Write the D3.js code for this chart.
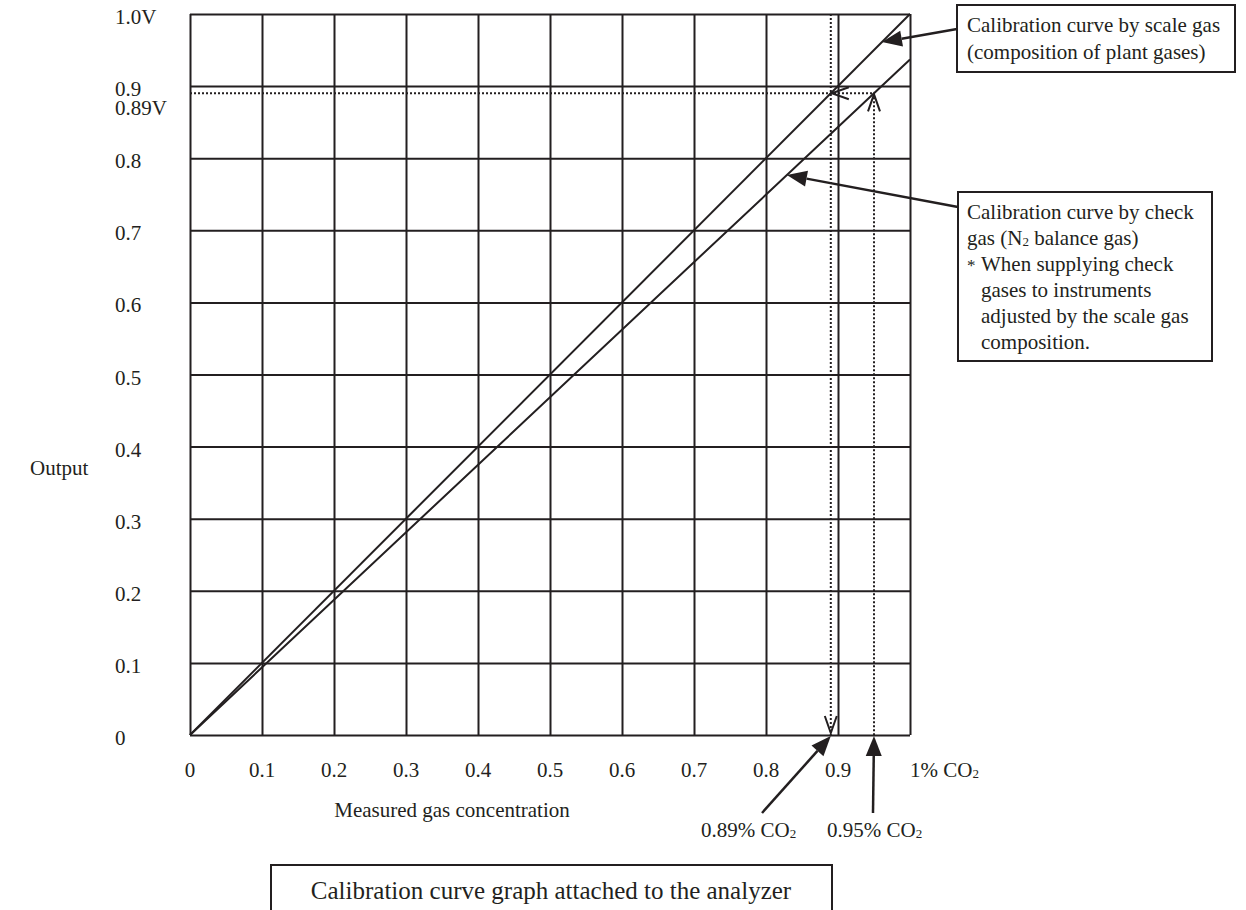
<!DOCTYPE html>
<html>
<head>
<meta charset="utf-8">
<script src="https://cdn.jsdelivr.net/npm/d3@7"></script>
<style>
  body { margin: 0; background: #fff; }
  svg text { font-family: "Liberation Serif", "Times New Roman", serif; font-size: 21px; fill: #231f20; }
</style>
</head>
<body>
<div id="chart"></div>
<script>
"use strict";

// grid / tick values
var xTicks = [0, 0.1, 0.2, 0.3, 0.4, 0.5, 0.6, 0.7, 0.8, 0.9, 1.0];
var xTickLabels = ["0", "0.1", "0.2", "0.3", "0.4", "0.5", "0.6", "0.7", "0.8", "0.9", "1% CO"];
var yTicks = [0, 0.1, 0.2, 0.3, 0.4, 0.5, 0.6, 0.7, 0.8, 0.9, 1.0];
var yTickLabels = ["0", "0.1", "0.2", "0.3", "0.4", "0.5", "0.6", "0.7", "0.8", "0.9", "1.0V"];

// calibration curves (concentration, output)
var scaleGasX = [0, 1.0];
var scaleGasY = [0, 1.0];
var checkGasX = [0, 0.95, 1.0];
var checkGasY = [0, 0.89, 0.937];

// reading of the check gas
var readOutput = 0.89;
var readScaleConc = 0.89;
var readCheckConc = 0.95;

var W = 1246, H = 910;
var ink = "#231f20";

var svg = d3.select("#chart").append("svg")
  .attr("width", W).attr("height", H);

var x = d3.scaleLinear().domain([0, 1]).range([190, 910]);
var y = d3.scaleLinear().domain([0, 1]).range([735, 14]);

// grid through the axes
var grid = svg.append("g");
grid.append("g")
  .attr("transform", "translate(0," + y(0) + ")")
  .call(d3.axisBottom(x).tickValues(xTicks).tickSize(y(1) - y(0)).tickFormat(""))
  .call(function (g) { g.select(".domain").remove(); });
grid.append("g")
  .attr("transform", "translate(" + x(0) + ",0)")
  .call(d3.axisLeft(y).tickValues(yTicks).tickSize(x(0) - x(1)).tickFormat(""))
  .call(function (g) { g.select(".domain").remove(); });
grid.selectAll("line").attr("stroke", ink).attr("stroke-width", 2);

// tick labels
svg.append("g").selectAll("text.xt")
  .data(xTicks)
  .enter().append("text")
  .attr("class", "xt")
  .attr("x", function (d) { return x(d); })
  .attr("y", 777)
  .attr("text-anchor", function (d, i) { return i === xTicks.length - 1 ? "start" : "middle"; })
  .text(function (d, i) { return xTickLabels[i]; })
  .filter(function (d, i) { return i === xTicks.length - 1; })
  .append("tspan").style("font-size", "13px").attr("dy", 1).text("2");

svg.append("g").selectAll("text.yt")
  .data(yTicks)
  .enter().append("text")
  .attr("class", "yt")
  .attr("x", 115)
  .attr("y", function (d) { return y(d) + 10; })
  .text(function (d, i) { return yTickLabels[i]; });

svg.append("text").attr("x", 115).attr("y", y(readOutput) + 22).text("0.89V");

svg.append("text").attr("x", 30).attr("y", 475).text("Output");
svg.append("text").attr("x", 452).attr("y", 817).attr("text-anchor", "middle")
  .text("Measured gas concentration");

// curves
var line = d3.line().x(function (d) { return x(d[0]); }).y(function (d) { return y(d[1]); });
svg.append("path")
  .datum(d3.zip(scaleGasX, scaleGasY))
  .attr("d", line).attr("fill", "none").attr("stroke", ink).attr("stroke-width", 2);
svg.append("path")
  .datum(d3.zip(checkGasX, checkGasY))
  .attr("d", line).attr("fill", "none").attr("stroke", ink).attr("stroke-width", 2);

// dotted reading lines
var dots = svg.append("g").attr("stroke", ink).attr("stroke-width", 2)
  .attr("stroke-dasharray", "2,2").attr("fill", "none");
dots.append("line").attr("x1", x(0)).attr("x2", x(readCheckConc))
  .attr("y1", y(readOutput)).attr("y2", y(readOutput));
dots.append("line").attr("x1", x(readScaleConc)).attr("x2", x(readScaleConc))
  .attr("y1", y(1)).attr("y2", y(0));
dots.append("line").attr("x1", x(readCheckConc)).attr("x2", x(readCheckConc))
  .attr("y1", y(readOutput)).attr("y2", y(0));

// open arrow heads (tip, direction angle)
function openHead(tx, ty, ang) {
  var len = 17, half = 6;
  var ca = Math.cos(ang), sa = Math.sin(ang);
  var bx = tx - len * ca, by = ty - len * sa;
  var p = "M" + (bx - half * sa) + "," + (by + half * ca) + "L" + tx + "," + ty +
          "L" + (bx + half * sa) + "," + (by - half * ca);
  svg.append("path").attr("d", p).attr("fill", "none").attr("stroke", ink).attr("stroke-width", 2);
}
openHead(x(readScaleConc) + 1, y(readOutput), Math.PI);
openHead(x(readCheckConc), y(readOutput) + 1, -Math.PI / 2);
openHead(x(readScaleConc), y(0) - 2, Math.PI / 2);

// filled arrows from tail to tip
function arrow(x1, y1, x2, y2) {
  var len = 20, half = 8;
  var ang = Math.atan2(y2 - y1, x2 - x1);
  var ca = Math.cos(ang), sa = Math.sin(ang);
  var bx = x2 - len * ca, by = y2 - len * sa;
  svg.append("line").attr("x1", x1).attr("y1", y1).attr("x2", bx).attr("y2", by)
    .attr("stroke", ink).attr("stroke-width", 2.5);
  svg.append("path")
    .attr("d", "M" + x2 + "," + y2 + "L" + (bx - half * sa) + "," + (by + half * ca) +
               "L" + (bx + half * sa) + "," + (by - half * ca) + "Z")
    .attr("fill", ink);
}
arrow(957, 29, x(0.961), y(0.961));
arrow(958, 207, x(0.829), y(0.829 * checkGasY[2]));
arrow(762, 813, x(readScaleConc), y(0) + 1);
arrow(873, 813, x(readCheckConc), y(0) + 1);

// reading labels
function co2Label(px, py, txt) {
  var t = svg.append("text").attr("x", px).attr("y", py).text(txt);
  t.append("tspan").style("font-size", "13px").attr("dy", 1).text("2");
}
co2Label(701, 837, "0.89% CO");
co2Label(827, 837, "0.95% CO");

// annotation boxes
function box(bx, by, bw, bh) {
  svg.append("rect").attr("x", bx).attr("y", by).attr("width", bw).attr("height", bh)
    .attr("fill", "#fff").attr("stroke", ink).attr("stroke-width", 2);
}
box(957, 5, 278, 67);
svg.append("text").attr("x", 967).attr("y", 32).text("Calibration curve by scale gas");
svg.append("text").attr("x", 967).attr("y", 59).text("(composition of plant gases)");

box(958, 192, 254, 169);
svg.append("text").attr("x", 967).attr("y", 219).text("Calibration curve by check");
var l2 = svg.append("text").attr("x", 967).attr("y", 245);
l2.append("tspan").text("gas (N");
l2.append("tspan").style("font-size", "13px").attr("dy", 1).text("2");
l2.append("tspan").attr("dy", -1).text(" balance gas)");
svg.append("text").attr("x", 967).attr("y", 271).style("font-size", "17px").text("*");
svg.append("text").attr("x", 981).attr("y", 271).text("When supplying check");
svg.append("text").attr("x", 981).attr("y", 297).text("gases to instruments");
svg.append("text").attr("x", 981).attr("y", 323).text("adjusted by the scale gas");
svg.append("text").attr("x", 981).attr("y", 349).text("composition.");

box(271, 865, 561, 100);
svg.append("text").attr("x", 551).attr("y", 899).attr("text-anchor", "middle")
  .style("font-size", "25px")
  .text("Calibration curve graph attached to the analyzer");
</script>
</body>
</html>
